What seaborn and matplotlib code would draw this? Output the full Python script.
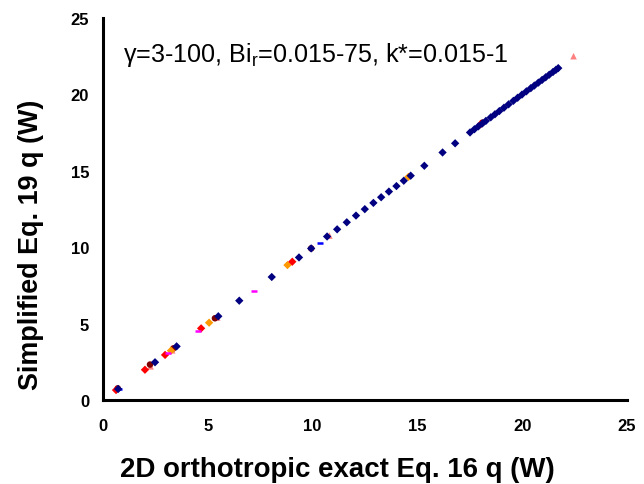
import matplotlib
matplotlib.use("Agg")
import matplotlib.pyplot as plt
import seaborn as sns
import pandas as pd

# ---- data ----
navy_x = [0.72, 2.48, 3.51, 5.50, 6.50, 8.05, 9.35, 9.93, 10.69, 11.17, 11.63, 12.07,
          12.49, 12.90, 13.27, 13.64, 14.00, 14.35, 14.68, 15.33, 16.20, 16.80, 17.51,
          17.72, 17.91, 18.10, 18.27, 18.50, 18.70, 18.91, 19.13, 19.35, 19.58, 19.78,
          19.99, 20.20, 20.41, 20.58, 20.77, 20.95, 21.12, 21.29, 21.47, 21.61, 21.72]
navy_y = [0.72, 2.47, 3.51, 5.48, 6.50, 8.05, 9.33, 9.92, 10.70, 11.17, 11.63, 12.07,
          12.49, 12.90, 13.27, 13.64, 14.00, 14.35, 14.68, 15.33, 16.20, 16.80, 17.51,
          17.72, 17.91, 18.10, 18.27, 18.50, 18.70, 18.91, 19.13, 19.35, 19.58, 19.78,
          19.99, 20.20, 20.41, 20.58, 20.77, 20.95, 21.12, 21.29, 21.47, 21.61, 21.72]
red_x = [0.62, 2.00, 2.96, 4.68, 9.03, 18.03]
red_y = [0.65, 1.98, 2.95, 4.69, 9.05, 18.06]
orange_x = [3.24, 5.06, 8.80, 14.57]
orange_y = [3.23, 5.06, 8.83, 14.60]
darkred_x = [0.70, 2.24, 3.36, 5.34, 9.93, 18.10]
darkred_y = [0.76, 2.32, 3.38, 5.35, 9.92, 18.15]
pink_x = [2.27, 3.30, 5.45, 10.80, 22.45]
pink_y = [2.20, 3.25, 5.40, 10.76, 22.50]
magenta_x = [3.12, 4.55, 7.20]
magenta_y = [3.05, 4.50, 7.15]
blue_x = [0.75, 10.35]
blue_y = [0.70, 10.30]

xticks = [0, 5, 10, 15, 20, 25]
yticks = [0, 5, 10, 15, 20, 25]
xlabel = "2D orthotropic exact Eq. 16 q (W)"
ylabel = "Simplified Eq. 19 q (W)"
note = r"γ=3-100, Bi$_\mathregular{r}$=0.015-75, k*=0.015-1"

sns.set_theme(style="white")
plt.rcParams['font.family'] = ['Liberation Sans', 'DejaVu Sans']
plt.rcParams['text.color'] = 'black'
plt.rcParams['axes.labelcolor'] = 'black'
plt.rcParams['xtick.color'] = 'black'
plt.rcParams['ytick.color'] = 'black'

fig = plt.figure(figsize=(6.44, 4.85), dpi=100)
ax = fig.add_axes([0.16, 0.1732, 0.8136, 0.7876])

series = [
    (pink_x, pink_y, "^", "#FF8080", 22),
    (darkred_x, darkred_y, "o", "#800000", 22),
    (orange_x, orange_y, "D", "#FF9900", 18),
    (red_x, red_y, "D", "#FF0000", 18),
    (magenta_x, magenta_y, "_", "#FF00FF", 20),
    (blue_x, blue_y, "_", "#0000FF", 20),
    (navy_x, navy_y, "D", "#000080", 18),
]
for xs, ys, m, c, s in series:
    df = pd.DataFrame({"x": xs, "y": ys})
    kw = dict(linewidth=0) if m != "_" else dict(linewidth=1.8)
    sns.scatterplot(data=df, x="x", y="y", marker=m, color=c, s=s, ax=ax,
                    edgecolor=c if m == "_" else "none", **kw)

ax.set_xlim(0, 25)
ax.set_ylim(0, 25)
ax.set_xticks(xticks)
ax.set_yticks(yticks)
xl = ax.set_xlabel(xlabel, fontsize=18.8, fontweight="bold", color="black",
                   va="baseline", ha="center")
yl = ax.set_ylabel(ylabel, fontsize=19.5, fontweight="bold", color="black",
                   va="baseline", ha="center")
ax.xaxis.set_label_coords(0.4475, -0.199)
ax.yaxis.set_label_coords(-0.124, 0.408)
for lab in ax.get_xticklabels() + ax.get_yticklabels():
    lab.set_fontweight("bold")
ax.tick_params(axis="both", direction="out", length=5, width=2, labelsize=12,
               colors="black")
ax.tick_params(axis="x", pad=8)
ax.tick_params(axis="y", pad=5)
for side in ["top", "right"]:
    ax.spines[side].set_visible(False)
for side in ["left", "bottom"]:
    ax.spines[side].set_linewidth(2.2)
    ax.spines[side].set_color("black")
nt = ax.text(0.95, 22.2, note, fontsize=18, color="black", va="baseline")

# scale text sizes so their extents match the reference (pixels)
fig.canvas.draw()
r = fig.canvas.get_renderer()
for t, target, use_w in [(xl, 435, True), (yl, 290, False), (nt, 385, True)]:
    bb = t.get_window_extent(r)
    cur = bb.width if use_w else bb.height
    t.set_fontsize(t.get_fontsize() * target / cur)

fig.savefig("out.png", dpi=100)
